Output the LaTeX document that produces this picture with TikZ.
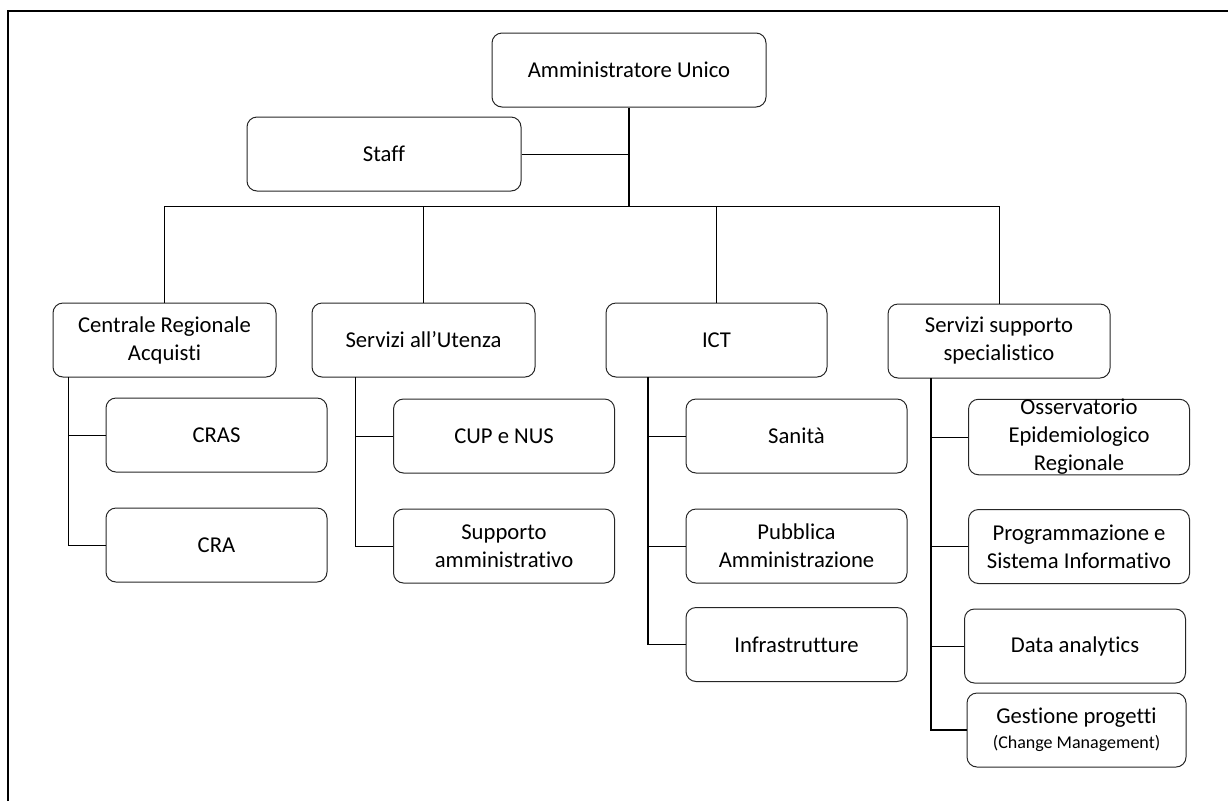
\documentclass[tikz,border=0pt]{standalone}
\usepackage{fontspec}
\setmainfont{Carlito}[Ligatures=NoCommon]
\begin{document}
\begin{tikzpicture}[x=0.75pt,y=-0.75pt,
  box/.style={draw=black!85,line width=0.75pt,rounded corners=7.5pt,align=center,inner sep=0pt,
    font=\fontsize{17}{21}\selectfont,minimum height=55.5pt},
  lvlone/.style={box,minimum width=205.5pt},
  lvltwo/.style={box,minimum width=167.25pt},
  child/.style={box,minimum width=165.75pt},
  conn/.style={line width=0.75pt,draw=black},
  trunk/.style={line width=1.2pt,draw=black}]
\useasboundingbox (0,0) rectangle (1228,801);
% frame
\draw[line width=1.5pt] (8,801) -- (8,11) -- (1228,11);
% top
\node[lvlone] (amm) at (629,70) {Amministratore Unico};
\node[lvlone] (staff) at (384,154) {Staff};
% level 2
\node[lvltwo] (crg) at (164.5,340) {Centrale Regionale\\Acquisti};
\node[lvltwo] (sua) at (423.5,340) {Servizi all’Utenza};
\node[lvltwo,minimum width=165.75pt] (ict) at (716.5,340) {ICT};
\node[lvltwo,minimum width=166.5pt] (sss) at (999,341) {Servizi supporto\\specialistico};
% children
\node[child] (cras) at (216.5,435) {CRAS};
\node[child] (cra) at (216.5,545) {CRA};
\node[child] (cup) at (504,436) {CUP e NUS};
\node[child] (sup) at (504,546) {Supporto\\amministrativo};
\node[child] (san) at (796.5,436) {Sanità};
\node[child] (pa) at (796.5,546) {Pubblica\\Amministrazione};
\node[child] (inf) at (796.5,644.5) {Infrastrutture};
\node[child,minimum height=54pt] (oss) at (1079,437) {Osservatorio\\Epidemiologico\\Regionale};
\node[child] (prg) at (1079,546.5) {Programmazione e\\Sistema Informativo};
\node[child] (dat) at (1075,646) {Data analytics};
\node[child,minimum width=164.25pt] (ges) at (1076.5,730) {Gestione progetti\\[-2pt]{\fontsize{13.5}{16}\selectfont (Change Management)}};
% trunk and bus
\coordinate (j) at (629,206);
\draw[trunk] (amm.south) -- (j);
\draw[conn] (staff.east) -- (staff.east -| amm.south);
\draw[conn] (crg.north) |- (j);
\draw[conn] (sss.north) |- (j);
\draw[conn] (sua.north) -- (sua.north |- j);
\draw[conn] (ict.north) -- (ict.north |- j);
% sub-branches
\coordinate (crgv) at (68,377);
\draw[conn] (crgv) |- (cra.west);
\draw[conn] (crgv |- cras.west) -- (cras.west);
\coordinate (suav) at (355,377);
\draw[conn] (suav) |- (sup.west);
\draw[conn] (suav |- cup.west) -- (cup.west);
\coordinate (ictv) at (648,377);
\draw[trunk] (ictv) |- (inf.west);
\draw[conn] (ictv |- san.west) -- (san.west);
\draw[conn] (ictv |- pa.west) -- (pa.west);
\coordinate (sssv) at (931,378);
\draw[trunk] (sssv) |- (ges.west);
\draw[conn] (sssv |- oss.west) -- (oss.west);
\draw[conn] (sssv |- prg.west) -- (prg.west);
\draw[conn] (sssv |- dat.west) -- (dat.west);
\end{tikzpicture}
\end{document}
